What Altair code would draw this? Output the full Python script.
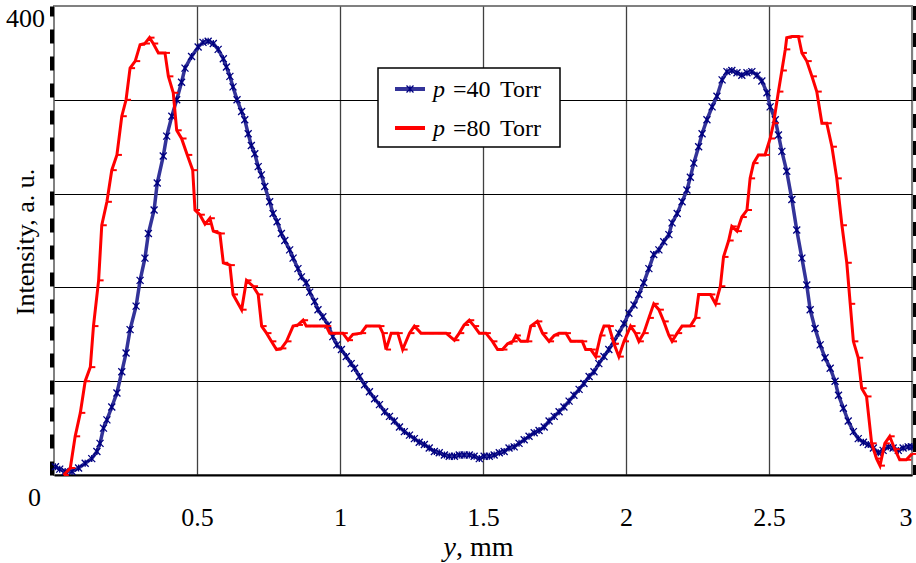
import altair as alt
import pandas as pd

# ---- data (y in mm, intensity in a.u.) ----
p40_torr = [
    (0.005, 7), (0.020, 5), (0.039, 3), (0.063, 3), (0.086, 6), (0.109, 10), (0.132, 14),
    (0.150, 20), (0.161, 27), (0.173, 40), (0.185, 47), (0.202, 58), (0.220, 70), (0.237, 88),
    (0.252, 104), (0.266, 124), (0.287, 144), (0.301, 166), (0.318, 185), (0.330, 206),
    (0.350, 226), (0.361, 249), (0.382, 272), (0.394, 289), (0.412, 306), (0.429, 320),
    (0.446, 335), (0.458, 347), (0.481, 357), (0.504, 365), (0.521, 369), (0.539, 370),
    (0.557, 368), (0.574, 363), (0.592, 355), (0.603, 348), (0.615, 340), (0.626, 331),
    (0.640, 320), (0.656, 310), (0.667, 303), (0.679, 291), (0.690, 281), (0.702, 274),
    (0.714, 263), (0.725, 256), (0.737, 246), (0.754, 233), (0.766, 223), (0.780, 216),
    (0.795, 206), (0.807, 200), (0.824, 192), (0.836, 185), (0.853, 176), (0.865, 169),
    (0.882, 164), (0.894, 156), (0.911, 148), (0.923, 141), (0.940, 135), (0.958, 128),
    (0.975, 118), (0.989, 111), (1.005, 107), (1.022, 101), (1.039, 95), (1.051, 91),
    (1.068, 84), (1.086, 77), (1.103, 71), (1.121, 65), (1.138, 60), (1.156, 54),
    (1.173, 50), (1.190, 46), (1.208, 41), (1.225, 37), (1.243, 34), (1.260, 31),
    (1.277, 28), (1.295, 26), (1.312, 23), (1.330, 20), (1.347, 19), (1.365, 17),
    (1.382, 16), (1.400, 16), (1.417, 17), (1.434, 17), (1.452, 17), (1.469, 16),
    (1.487, 14), (1.504, 16), (1.522, 16), (1.539, 17), (1.557, 19), (1.574, 20),
    (1.591, 23), (1.609, 24), (1.626, 27), (1.644, 30), (1.661, 33), (1.679, 36),
    (1.696, 38), (1.714, 41), (1.731, 46), (1.749, 50), (1.766, 54), (1.783, 58),
    (1.801, 63), (1.818, 68), (1.836, 73), (1.853, 78), (1.871, 84), (1.888, 88),
    (1.905, 95), (1.923, 101), (1.940, 107), (1.958, 114), (1.975, 121), (1.993, 129),
    (2.010, 138), (2.028, 145), (2.045, 154), (2.062, 164), (2.080, 176), (2.097, 188),
    (2.115, 192), (2.132, 199), (2.150, 205), (2.161, 215), (2.179, 223), (2.196, 233),
    (2.213, 243), (2.225, 254), (2.237, 266), (2.254, 280), (2.266, 291), (2.283, 303),
    (2.301, 314), (2.318, 323), (2.336, 337), (2.353, 344), (2.370, 345), (2.388, 343),
    (2.405, 341), (2.423, 343), (2.440, 344), (2.458, 341), (2.475, 336), (2.493, 326),
    (2.504, 314), (2.522, 303), (2.533, 290), (2.545, 276), (2.562, 259), (2.580, 235),
    (2.597, 209), (2.615, 185), (2.632, 162), (2.644, 141), (2.661, 125), (2.679, 111),
    (2.696, 100), (2.714, 91), (2.731, 80), (2.743, 68), (2.760, 57), (2.777, 46),
    (2.795, 37), (2.812, 31), (2.830, 28), (2.847, 26), (2.865, 23), (2.882, 19),
    (2.899, 21), (2.917, 24), (2.934, 23), (2.952, 21), (2.969, 23), (2.987, 24), (3.000, 24),
]

p80_torr = [
    (0.034, 0), (0.057, 6), (0.074, 33), (0.092, 53), (0.109, 80), (0.127, 92), (0.138, 127),
    (0.156, 166), (0.167, 213), (0.185, 233), (0.202, 260), (0.220, 273), (0.237, 306),
    (0.252, 320), (0.266, 347), (0.284, 353), (0.301, 367), (0.318, 368), (0.334, 373),
    (0.347, 368), (0.365, 360), (0.388, 360), (0.400, 340), (0.417, 326), (0.429, 294),
    (0.446, 287), (0.466, 273), (0.485, 260), (0.493, 226), (0.510, 222), (0.528, 214),
    (0.545, 219), (0.557, 208), (0.580, 206), (0.592, 181), (0.615, 179), (0.626, 154),
    (0.656, 141), (0.673, 166), (0.696, 161), (0.714, 154), (0.726, 127), (0.743, 121),
    (0.760, 114), (0.778, 107), (0.795, 108), (0.813, 114), (0.836, 127), (0.853, 128),
    (0.871, 132), (0.882, 127), (0.905, 127), (0.929, 127), (0.952, 127), (0.964, 121),
    (0.987, 121), (1.010, 121), (1.028, 115), (1.045, 120), (1.074, 121), (1.092, 127),
    (1.115, 127), (1.138, 127), (1.150, 121), (1.161, 107), (1.179, 121), (1.202, 121),
    (1.219, 107), (1.243, 121), (1.260, 127), (1.283, 121), (1.312, 121), (1.342, 121),
    (1.371, 121), (1.400, 115), (1.417, 121), (1.434, 128), (1.452, 132), (1.469, 127),
    (1.487, 121), (1.510, 121), (1.533, 114), (1.551, 107), (1.568, 107), (1.586, 112),
    (1.604, 114), (1.615, 119), (1.632, 114), (1.655, 114), (1.667, 127), (1.690, 131),
    (1.708, 121), (1.731, 114), (1.749, 119), (1.766, 121), (1.790, 121), (1.807, 114),
    (1.830, 114), (1.847, 114), (1.859, 107), (1.877, 107), (1.894, 101), (1.911, 119),
    (1.923, 127), (1.940, 127), (1.958, 112), (1.975, 101), (1.993, 114), (2.016, 127),
    (2.033, 121), (2.045, 114), (2.062, 121), (2.080, 134), (2.097, 146), (2.115, 141),
    (2.132, 131), (2.150, 119), (2.161, 114), (2.179, 121), (2.196, 127), (2.225, 127),
    (2.243, 134), (2.254, 154), (2.278, 154), (2.295, 154), (2.313, 146), (2.330, 161),
    (2.341, 186), (2.359, 200), (2.370, 212), (2.388, 208), (2.405, 220), (2.423, 226),
    (2.434, 253), (2.446, 266), (2.463, 273), (2.486, 273), (2.504, 287), (2.516, 300),
    (2.533, 327), (2.545, 345), (2.557, 363), (2.562, 373), (2.580, 374), (2.603, 374),
    (2.615, 360), (2.632, 353), (2.650, 340), (2.667, 327), (2.685, 300), (2.702, 300),
    (2.720, 280), (2.737, 253), (2.755, 213), (2.772, 181), (2.784, 146), (2.795, 114),
    (2.812, 100), (2.824, 74), (2.841, 67), (2.859, 27), (2.876, 14), (2.888, 8),
    (2.905, 27), (2.922, 33), (2.940, 22), (2.957, 13), (2.980, 13), (3.000, 18),
]

x_tick_values = [0.5, 1, 1.5, 2, 2.5, 3]
y_grid_values = [80, 160, 240, 320]
y_min_label = [0]
y_max_label = [400]

# ---- layout / style ----
W, H = 858, 469
FONT = "Liberation Serif"
BLUE_LINE = "#333399"
BLUE_MARK = "#000080"
RED = "#ff0000"
STAR = "M-1,-1L1,1M-1,1L1,-1M0,-1L0,1"
DASH = "M0,0L1,0"

blue = pd.DataFrame(p40_torr, columns=["y", "I"])
red = pd.DataFrame(p80_torr, columns=["y", "I"])
one = pd.DataFrame({"a": [0]})

xs = alt.Scale(domain=[0, 3], nice=False, zero=False)
ys = alt.Scale(domain=[0, 400], nice=False)

x_axis = alt.Axis(
    values=x_tick_values, format="~g", title=None, labelFont=FONT, labelFontSize=26,
    labelColor="black", labelPadding=29, labelFlush=True, labelBound=False,
    ticks=False, tickSize=0, domainColor="black", domainWidth=2,
    grid=True, gridWidth=1.3,
    gridColor={"condition": {"test": "datum.value >= 3", "value": "#808080"}, "value": "#404040"},
)
y_axis = alt.Axis(
    values=y_grid_values, title=None, labels=False, ticks=False,
    domainColor="black", domainWidth=4, domainDash=[14, 13], offset=2.5,
    grid=True, gridColor="black", gridWidth=1.2,
)

X = alt.X("y:Q", scale=xs, axis=x_axis)
Y = alt.Y("I:Q", scale=ys, axis=y_axis)

blue_line = alt.Chart(blue).mark_line(color=BLUE_LINE, strokeWidth=3.5).encode(x=X, y=Y)
blue_pts = alt.Chart(blue).mark_point(
    shape=STAR, size=49, filled=False, stroke=BLUE_MARK, strokeWidth=1.3, opacity=1
).encode(x=X, y=Y)
red_line = alt.Chart(red).mark_line(color=RED, strokeWidth=3).encode(x=X, y=Y)
red_pts = alt.Chart(red).mark_point(
    shape=DASH, size=100, filled=False, stroke=RED, strokeWidth=2, opacity=1
).encode(x=X, y=Y)

# right-hand dashed frame line
right_dash = alt.Chart(one).mark_rule(stroke="black", strokeWidth=4, strokeDash=[14, 13]).encode(
    x=alt.value(W + 3), y=alt.value(0), y2=alt.value(H)
)

# y-axis end labels
lab0 = alt.Chart(pd.DataFrame({"I": y_min_label})).mark_text(
    font=FONT, fontSize=26, color="black", align="right", dy=23
).encode(x=alt.value(-13), y=Y, text=alt.Text("I:Q"))
lab400 = alt.Chart(pd.DataFrame({"I": y_max_label})).mark_text(
    font=FONT, fontSize=26, color="black", align="right", dy=13
).encode(x=alt.value(-9), y=Y, text=alt.Text("I:Q"))

# axis titles
ytitle = alt.Chart(one).mark_text(
    text="Intensity, a. u.", font=FONT, fontSize=26, angle=270, color="black"
).encode(x=alt.value(-28), y=alt.value(236))
xtitle_y = alt.Chart(one).mark_text(
    text="y", font=FONT, fontSize=28, fontStyle="italic", align="right", color="black"
).encode(x=alt.value(402), y=alt.value(542))
xtitle_rest = alt.Chart(one).mark_text(
    text=", mm", font=FONT, fontSize=28, align="left", color="black"
).encode(x=alt.value(402), y=alt.value(542))

# legend
leg_box = alt.Chart(one).mark_rect(fill="white", stroke="black", strokeWidth=1.5).encode(
    x=alt.value(324), x2=alt.value(506), y=alt.value(62), y2=alt.value(141)
)
leg_blue = alt.Chart(one).mark_rule(color=BLUE_LINE, strokeWidth=4).encode(
    x=alt.value(341), x2=alt.value(371), y=alt.value(83)
)
leg_blue_pt = alt.Chart(one).mark_point(
    shape=STAR, size=49, filled=False, stroke=BLUE_MARK, strokeWidth=1.3, opacity=1
).encode(x=alt.value(356), y=alt.value(83))
leg_red = alt.Chart(one).mark_rule(color=RED, strokeWidth=4).encode(
    x=alt.value(341), x2=alt.value(371), y=alt.value(122)
)
legend_text = []
for yy, val in [(84, "=40"), (123, "=80")]:
    legend_text.append(alt.Chart(one).mark_text(
        text="p", font=FONT, fontSize=24, fontStyle="italic", align="left", color="black"
    ).encode(x=alt.value(379), y=alt.value(yy)))
    legend_text.append(alt.Chart(one).mark_text(
        text=val, font=FONT, fontSize=24, align="left", color="black"
    ).encode(x=alt.value(399), y=alt.value(yy)))
    legend_text.append(alt.Chart(one).mark_text(
        text="Torr", font=FONT, fontSize=24, align="left", color="black"
    ).encode(x=alt.value(446), y=alt.value(yy)))

chart = alt.layer(
    blue_line, blue_pts, red_line, red_pts, right_dash, lab0, lab400,
    ytitle, xtitle_y, xtitle_rest, leg_box, leg_blue, leg_blue_pt, leg_red, *legend_text
).properties(
    width=W, height=H,
    autosize=alt.AutoSizeParams(type="none"),
    padding={"left": 54, "top": 6, "right": 4, "bottom": 88},
    background="white",
).configure_view(stroke="#808080", strokeWidth=2)

chart.save("out.html", embed_options={"renderer": "svg", "actions": False})
